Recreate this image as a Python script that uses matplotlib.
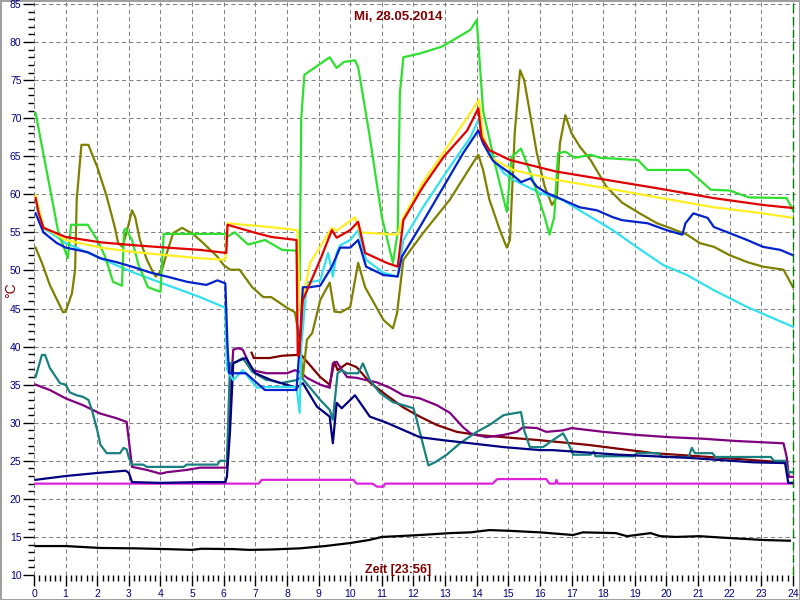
import numpy as np
import matplotlib.pyplot as plt
from matplotlib.ticker import MultipleLocator

# hours / degrees
green_h = [0.05,0.77,1.07,1.17,1.7,2.0,2.25,2.5,2.78,2.85,2.9,3.1,3.3,3.6,4.0,4.1,4.2,6.05,6.1,6.35,6.77,7.3,7.85,8.3,8.35,8.4,8.45,8.55,9.35,9.57,9.8,10.15,10.25,10.6,11.0,11.35,11.5,11.57,11.68,12.2,12.9,13.8,14.0,14.2,14.6,14.95,15.1,15.4,15.7,16.15,16.3,16.45,16.57,16.8,17.1,17.6,17.9,19.1,19.4,20.7,21.4,22.0,22.6,23.8,24.0]
green_v = [70.7,55,51.6,56,56,54,51.8,48.5,48,55.3,55.5,54,50.8,47.8,47.2,54.8,54.8,54.8,54.4,55,53.4,54,52.7,52.6,51,48.7,70,75.7,78,76.6,77.4,77.6,76.7,68,57,51,55,73.3,78,78.5,79.4,81.6,82.9,71,63.6,57.7,64.9,66,62.8,57,54.7,57,65.4,65.6,64.8,65.2,64.8,64.5,63.2,63.2,60.6,60.5,59.6,59.5,57.9]

red_h = [0.05,0.15,0.3,1.0,2.1,3.2,4.2,5.25,6.08,6.12,6.95,7.5,8.3,8.34,8.38,8.5,9.05,9.42,9.57,10.0,10.25,10.47,11.15,11.5,11.68,12.3,12.95,13.7,14.05,14.15,14.4,15.05,16.5,18.1,19.7,21.5,23.05,24.0]
red_v = [59.5,57.5,55.6,54.4,53.7,53.3,53,52.7,52.3,56,55,54.4,54,38.8,38.8,46.1,51.4,55.3,54.3,55.3,56.4,52.3,51,50.5,56.6,61,64.9,68.4,71.3,67.5,65.8,64.5,63,61.9,60.8,59.5,58.6,58.2]

yellow_h = [0.05,0.3,1.0,2.1,3.2,4.2,5.25,6.05,6.12,7.45,8.33,8.38,8.42,8.73,9.42,9.57,10.15,10.3,11.5,11.68,12.3,13.15,13.8,14.07,14.2,14.4,15.15,16.5,18.1,19.7,21.5,23.05,24.0]
yellow_v = [59.9,55.7,54,53,52.4,52,51.6,51.4,56.2,55.7,55.3,48.3,44.4,51,55.6,55.2,57,55,54.7,57,61.6,66.7,70.7,72.4,68,64.9,63.2,61.9,60.8,59.6,58.3,57.5,56.9]

blue_h = [0.05,0.3,0.72,1.0,1.7,2.1,2.6,3.1,3.7,4.2,4.85,5.45,5.8,6.05,6.12,6.17,6.7,7.3,8.3,8.4,8.5,8.73,9.05,9.42,9.68,10.0,10.25,10.5,11.05,11.5,11.63,12.2,12.95,13.57,14.05,14.2,14.5,14.6,15.15,15.4,15.7,15.9,16.2,16.6,17.25,17.8,18.3,18.6,19.4,20.0,20.5,20.6,20.85,21.3,21.5,22.0,22.55,23.05,23.6,24.0]
blue_v = [57.5,55,53.6,53,52.4,51.6,51.1,50.5,49.7,49.2,48.5,48.1,48.7,48.3,40,36.5,36.5,34.3,34.3,40,47.8,47.8,48,50.5,53,53,54,50.5,49.4,49.2,51.8,55.7,61,65.4,68.4,66.7,64.5,64.1,62.5,61.6,62.1,61,60.2,59.5,58.3,57.9,57,56.6,56.2,55.3,54.7,56.2,57.5,56.9,55.7,54.9,54,53.1,52.7,52]

cyan_h = [0.08,0.3,1.0,2.1,3.1,4.2,5.25,6.05,6.1,6.3,6.6,7.05,7.3,8.3,8.4,8.45,8.63,9.05,9.3,9.45,9.57,9.68,10.0,10.25,10.5,11.05,11.5,11.68,12.3,13.15,13.8,14.05,14.25,14.5,14.85,15.15,16.0,16.7,17.25,18.3,19.05,19.9,20.65,21.5,22.55,24.0]
cyan_v = [58.3,55.6,53.6,51.6,49.8,48.1,46.5,45.1,37,35.6,36.9,34.6,34.7,34.7,31.3,40,48.4,48.7,52.3,49.2,52.3,53.3,54,55.3,51.4,49.7,49.2,54,58.3,63.6,67.5,69.8,66.7,64.9,62.8,61.9,60.2,59.3,57.9,55.3,53.1,50.7,49.4,47.4,45.2,42.6]

olive_h = [0.05,0.25,0.5,0.92,1.0,1.2,1.3,1.35,1.5,1.72,1.87,2.0,2.3,2.56,2.66,2.8,2.97,3.1,3.2,3.35,3.57,3.77,3.85,4.05,4.2,4.4,4.68,4.85,5.0,5.35,5.8,6.0,6.2,6.5,6.9,7.25,7.5,8.0,8.25,8.4,8.5,8.63,8.8,9.05,9.35,9.5,9.7,10.0,10.25,10.47,11.05,11.35,11.48,11.68,12.3,13.15,13.8,14.05,14.2,14.4,14.73,14.95,15.05,15.2,15.37,15.5,15.68,15.9,16.15,16.38,16.53,16.63,16.8,17.0,17.27,17.6,18.1,18.6,19.15,19.7,20.1,20.65,21.05,21.5,22.0,22.55,23.05,23.7,24.0]
olive_v = [53,51,48.1,44.5,44.6,47,50.1,59.3,66.5,66.5,64.9,63.6,59.7,55.6,53.6,53.1,55.7,57.9,57,54,51.4,49.7,49.2,50.1,52.3,54.9,55.6,55.2,54.9,53.6,51.8,50.7,50.1,50.1,47.8,46.5,46.5,45.1,44.5,40.9,36,40.9,41.8,46.1,48.4,44.6,44.5,45.2,51,47.8,43.5,42.4,44.4,51.4,54.9,59.3,63.6,65.2,63.2,59.3,55.3,53,54,68,76.3,75,70.7,65.4,61,58.6,59.6,66.7,70.4,68,66.2,64.5,61,58.9,57.5,56.2,55.6,54.7,53.6,53.1,52,51.1,50.5,50.1,47.8]

teal_h = [0.05,0.25,0.35,0.5,0.82,1.0,1.13,1.35,1.55,1.72,1.83,2.0,2.1,2.3,2.72,2.83,2.93,3.0,3.1,3.45,3.57,4.73,4.83,5.8,5.88,6.1,6.2,6.4,6.6,6.9,7.35,7.45,7.8,8.3,8.45,8.73,9.05,9.35,9.45,9.6,9.73,9.9,10.25,10.4,10.62,10.94,11.35,11.68,12.0,12.1,12.47,12.68,13.05,13.47,14.0,14.4,14.85,15.4,15.5,15.68,16.1,16.4,16.73,16.85,17.05,17.6,17.7,17.75,18.95,19.05,19.75,19.85,20.7,20.8,20.9,21.45,21.55,23.3,23.4,23.75,23.85,24.0]
teal_v = [36,38.9,38.9,37.2,35.2,35,34,33.6,33.4,33,31.7,29,27.1,26,26,26.7,26.5,25.4,24.5,24.5,24.2,24.2,24.5,24.5,25,25,37.8,38,38.5,36.7,35.6,35.6,35.2,35.6,36,34.6,33,31.7,30.4,36.5,36.9,36.5,36.5,37.8,35.6,33.9,32.7,32.3,31.9,30.4,24.4,24.8,25.8,27.3,28.8,29.7,31,31.4,29,26.8,26.8,27.7,28.6,27.7,25.8,25.8,26.2,25.6,25.6,26,26,25.5,25.5,26.7,26,26,25.5,25.5,25,25,23.5,23.5]

purple_h = [0.05,0.5,1.0,1.55,2.1,2.6,2.93,3.1,3.57,4.0,4.2,4.83,5.25,6.1,6.2,6.3,6.45,6.6,6.9,7.35,8.0,8.25,8.4,8.63,9.05,9.35,9.45,9.57,9.68,9.9,10.2,10.5,10.84,11.25,11.68,12.2,12.74,13.15,13.57,13.8,14.3,14.85,15.27,15.46,15.9,16.2,16.73,17.0,18.0,19.05,20.1,21.15,22.2,23.7,23.8,23.87,24.0]
purple_v = [35,34.3,33.2,32.3,31.2,30.6,30.1,24.2,23.8,23.3,23.5,23.8,24.1,24.1,33,39.6,39.8,39.6,36.9,36.5,36.5,36.9,36.7,35.9,35,34.6,37.8,38,37.3,36,35.9,35.6,35.3,34.6,33.6,33.2,32.3,31.3,29.4,28.6,28.1,28.4,28.8,29.4,29.3,28.8,29,29.3,28.8,28.4,28.1,27.9,27.6,27.3,25.5,22.9,22.9]

navy_h = [0.05,1.0,2.0,2.9,3.0,3.1,4.0,5.25,6.05,6.1,6.2,6.3,6.5,6.7,7.0,7.5,8.3,8.5,8.95,9.35,9.45,9.57,9.73,10.15,10.62,11.15,12.2,12.95,13.8,14.85,16.0,16.4,18.5,20.65,22.75,23.75,23.85,24.0]
navy_v = [22.5,23,23.4,23.7,23.4,22.2,22.1,22.2,22.2,22.9,29,37.8,38.2,38.5,36.5,35.6,34.6,35.2,32.1,30.8,27.3,32.6,31.9,33.6,30.8,30,28.1,27.7,27.3,26.8,26.4,26.4,25.8,25.4,24.8,24.7,22.1,22.1]

maroon_h = [6.88,6.95,7.45,7.85,8.3,8.45,9.05,9.35,9.5,9.6,9.9,10.2,10.62,11.15,11.68,12.2,12.74,13.37,14.0,14.85,16.0,17.5,19.6,21.7,23.7]
maroon_v = [39.2,38.5,38.5,38.8,38.9,38.9,36,35,38,36.9,37.8,37.3,35.3,33.6,32,30.8,29.7,28.8,28.4,28.1,27.7,27.1,26,25.4,24.8]

magenta_h = [0,7.1,7.2,10.1,10.2,10.7,10.85,11.05,11.1,14.5,14.65,16.2,16.3,16.48,16.52,16.56,24]
magenta_v = [22,22,22.5,22.5,22,22,21.6,21.6,22,22,22.6,22.6,22,22,22.5,22,22]

black_h = [0.05,1.0,2.1,3.2,4.2,5.0,5.3,6.3,6.8,7.5,8.4,9.2,10.0,10.6,11.0,11.5,12.2,13.15,13.8,14.4,15.05,16.0,16.3,17.05,17.35,18.4,18.75,19.5,19.8,20.3,21.05,21.8,22.65,23.05,23.9]
black_v = [13.8,13.8,13.55,13.5,13.4,13.3,13.45,13.4,13.3,13.35,13.5,13.8,14.2,14.6,15.0,15.1,15.25,15.5,15.6,15.9,15.8,15.6,15.5,15.25,15.6,15.5,15.1,15.5,15.1,15.0,15.1,14.9,14.7,14.6,14.5]

plt.rcParams['font.family'] = ['Liberation Sans', 'DejaVu Sans']

fig = plt.figure(figsize=(8, 6), dpi=100)
fig.patch.set_edgecolor('#a0a0a0')
fig.patch.set_linewidth(2)
ax = fig.add_axes([34/800, 25/600, 762/800, 573/600])

lw = 1.6
ax.plot(black_h, black_v, color='black', lw=lw)
ax.plot(magenta_h, magenta_v, color='#dd22dd', lw=lw)
ax.plot(maroon_h, maroon_v, color='#800000', lw=lw)
ax.plot(purple_h, purple_v, color='#800080', lw=lw)
ax.plot(teal_h, teal_v, color='#188080', lw=lw)
ax.plot(navy_h, navy_v, color='#000080', lw=lw)
ax.plot(olive_h, olive_v, color='#808000', lw=lw)
ax.plot(cyan_h, cyan_v, color='#33e0f0', lw=lw)
ax.plot(green_h, green_v, color='#2ee02e', lw=lw)
ax.plot(yellow_h, yellow_v, color='#ffee22', lw=lw)
ax.plot(blue_h, blue_v, color='#0022cc', lw=lw)
ax.plot(red_h, red_v, color='#e00000', lw=lw)

ax.axvline(24, color='#008000', lw=1, ls=(0, (6, 3)))

ax.set_xlim(0, 24.095)
ax.set_ylim(10, 85.26)
ax.xaxis.set_major_locator(MultipleLocator(1))
ax.xaxis.set_minor_locator(MultipleLocator(1/6))
ax.yaxis.set_major_locator(MultipleLocator(5))
ax.yaxis.set_minor_locator(MultipleLocator(1))
ax.grid(True, which='major', color='#808080', linestyle=(0, (4, 3)), linewidth=0.75)
ax.set_axisbelow(True)
for s in ax.spines.values():
    s.set_visible(False)
ax.tick_params(which='major', length=8, width=1, color='black', labelcolor='#000080', labelsize=7.5)
ax.tick_params(which='minor', length=4, width=1, color='black')
ax.tick_params(axis='x', pad=2)
ax.tick_params(axis='y', pad=1)

fig.text(398/800, 1 - 17/600, 'Mi, 28.05.2014', color='#800000', fontsize=9.5,
         fontweight='bold', ha='center', va='center')
fig.text(398/800, 1 - 570/600, 'Zeit [23:56]', color='#800000', fontsize=9,
         fontweight='bold', ha='center', va='center')
fig.text(11/800, 1 - 290/600, '°C', color='#800000', fontsize=10,
         rotation=90, ha='center', va='center')

plt.savefig('out.png', dpi=100)
